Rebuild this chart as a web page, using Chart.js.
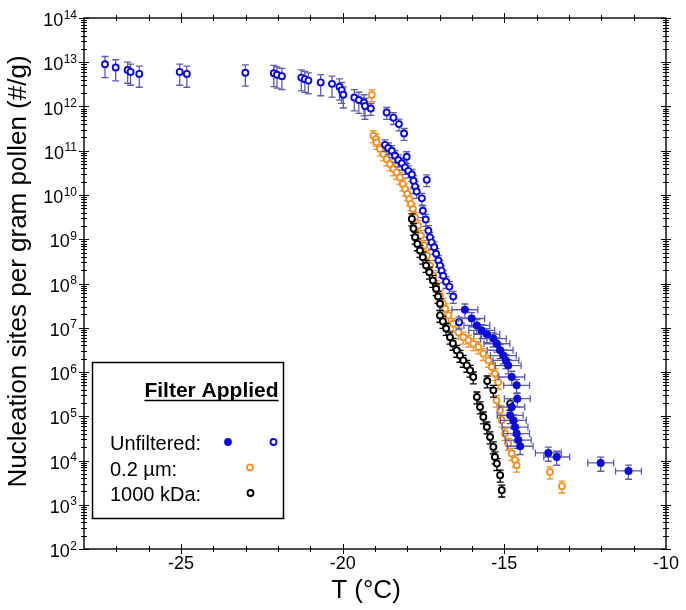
<!DOCTYPE html>
<html><head><meta charset="utf-8">
<script src="https://cdn.jsdelivr.net/npm/chart.js@4.4.1/dist/chart.umd.min.js"></script>
<style>html,body{margin:0;padding:0;background:#fff;}canvas{display:block;}</style>
</head><body>
<canvas id="c" width="686" height="610"></canvas>
<script>
// ---------------- DATA ----------------
const xTitle = 'T (°C)';
const yTitle = 'Nucleation sites per gram pollen (#/g)';
const legendTitle = 'Filter Applied';
const legendLabels = ['Unfiltered:', '0.2 µm:', '1000 kDa:'];
const xMin = -28, xMax = -10;
const xTickValues = [-25, -20, -15, -10];
const yMin = 1e2, yMax = 1e14;
const yTickExponents = [2, 3, 4, 5, 6, 7, 8, 9, 10, 11, 12, 13, 14];

// Unfiltered (open circles)
const blueOpenT = [-27.35,-27.02,-26.65,-26.56,-26.29,-25.04,-24.82,-23.01,-22.13,-22.03,-21.88,-21.28,-21.17,-21.06,-20.68,-20.33,-20.10,-20.03,-19.98,-19.64,-19.50,-19.34,-19.31,-19.13,-18.64,-18.43,-18.26,-18.10,-18.02,-18.69,-18.59,-18.48,-18.38,-18.28,-18.17,-18.07,-17.97,-17.86,-17.81,-17.76,-17.71,-17.55,-17.40,-17.52,-17.43,-17.35,-17.30,-17.25,-17.17,-17.11,-17.04,-16.99,-16.94,-16.89,-16.80,-16.70,-16.58,-16.40];
const blueOpenN = [9.0e12,7.6e12,6.7e12,6.05e12,5.45e12,6.05e12,5.45e12,5.8e12,5.65e12,5.2e12,4.85e12,4.5e12,4.15e12,3.85e12,3.5e12,3.25e12,2.8e12,2.35e12,1.85e12,1.6e12,1.4e12,1.23e12,1.03e12,9.0e11,7.3e11,5.6e11,4.0e11,2.45e11,7.3e10,1.36e11,1.15e11,1.0e11,7.7e10,6.2e10,5.2e10,4.2e10,3.5e10,2.9e10,2.1e10,1.55e10,1.2e10,8.4e9,2.2e10,4.4e9,2.8e9,1.57e9,1.1e9,8.5e8,6.6e8,4.7e8,3.3e8,2.55e8,1.95e8,1.5e8,1.1e8,8.5e7,5.1e7,1.34e7];
const blueOpenErr = [0.5,0.5,0.5,0.5,0.5,0.5,0.5,0.5,0.5,0.5,0.5,0.5,0.5,0.5,0.5,0.5,0.5,0.5,0.5,0.5,0.5,0.5,0.5,0.3,0.3,0.3,0.3,0.3,0.3,0.3,0.3,0.3,0.3,0.3,0.3,0.3,0.3,0.3,0.3,0.3,0.3,0.3,0.3,0.3,0.3,0.3,0.3,0.3,0.3,0.3,0.3,0.3,0.3,0.3,0.3,0.3,0.3,0.3];

// Unfiltered (filled circles, with T uncertainty)
const blueFilledT = [-16.22,-16.01,-15.85,-15.70,-15.54,-15.34,-15.23,-15.13,-15.03,-14.95,-14.88,-14.77,-14.62,-14.60,-14.77,-14.82,-14.72,-14.67,-14.62,-14.57,-14.51,-13.64,-13.38,-12.02,-11.16];
const blueFilledN = [2.55e7,1.62e7,1.13e7,8.7e6,7.1e6,5.65e6,4.35e6,3.1e6,2.35e6,1.83e6,1.4e6,7.7e5,5.0e5,2.5e5,1.62e5,1.05e5,8.1e4,5.7e4,4.05e4,2.9e4,2.1e4,1.48e4,1.2e4,8.8e3,5.8e3];
const blueFilledErrN = 0.35;
const blueFilledErrT = 0.4;

// 0.2 µm filtered
const orangeT = [-19.10,-19.05,-18.97,-18.95,-18.84,-18.74,-18.64,-18.54,-18.43,-18.33,-18.23,-18.14,-18.07,-18.00,-17.94,-17.89,-17.83,-17.76,-17.67,-17.58,-17.48,-17.39,-17.30,-17.20,-17.11,-16.99,-16.90,-16.83,-16.73,-16.58,-16.42,-16.27,-16.11,-15.96,-15.80,-15.65,-15.49,-15.39,-15.29,-15.19,-15.24,-15.13,-15.08,-14.98,-14.88,-14.77,-14.67,-14.62,-13.59,-13.22];
const orangeN = [1.83e12,2.18e11,1.84e11,1.54e11,1.09e11,8.4e10,6.5e10,5.0e10,3.86e10,3.24e10,2.5e10,1.77e10,1.37e10,1.05e10,8.1e9,6.3e9,4.84e9,3.13e9,2.03e9,1.21e9,7.2e8,4.28e8,2.55e8,1.51e8,9.0e7,5.35e7,3.53e7,2.68e7,1.9e7,1.23e7,7.96e6,6.1e6,5.2e6,4.36e6,3.66e6,2.6e6,1.83e6,1.3e6,9.2e5,5.9e5,2.29e5,1.36e5,8.1e4,4.06e4,2.42e4,1.44e4,1.02e4,7.8e3,5.5e3,2.63e3];
const orangeErrN = 0.3;

// 1000 kDa filtered
const blackT = [-17.86,-17.81,-17.76,-17.69,-17.61,-17.52,-17.42,-17.32,-17.21,-17.11,-17.05,-16.99,-16.99,-16.90,-16.80,-16.68,-16.59,-16.47,-16.37,-16.27,-16.16,-16.06,-15.96,-15.53,-15.34,-14.82,-15.85,-15.75,-15.65,-15.54,-15.44,-15.34,-15.29,-15.23,-15.13,-15.08];
const blackN = [2.88e9,1.74e9,1.11e9,7.85e8,5.55e8,3.92e8,2.55e8,1.8e8,1.17e8,7.6e7,5.1e7,3.48e7,1.9e7,1.39e7,9.6e6,6.1e6,4.43e6,3.08e6,2.37e6,1.83e6,1.41e6,1.09e6,7.7e5,6.25e5,3.85e5,1.93e5,2.72e5,1.62e5,9.6e4,5.7e4,3.4e4,2.03e4,1.2e4,8.5e3,4.66e3,2.14e3];
const blackErrN = 0.3;

// ---------------- STYLE ----------------
const FONT = '"Liberation Sans", Arial, Helvetica, sans-serif';
const BLUE = '#0b0bd8', BLUE_ERR = '#5c5cae', ORANGE = '#ef942a', BLACK = '#000000';

const pts = (T, N) => T.map((t, i) => ({x: t, y: N[i]}));

function drawCircle(ctx, x, y, r, fill, stroke) {
  ctx.beginPath(); ctx.arc(x, y, r, 0, Math.PI * 2);
  ctx.fillStyle = fill; ctx.fill();
  ctx.lineWidth = 1.8; ctx.strokeStyle = stroke; ctx.stroke();
}

const framePlugin = {
  id: 'framePlugin',
  beforeDatasetDraw(chart, args) {
    const ds = chart.data.datasets[args.index];
    const xs = chart.scales.x, ys = chart.scales.y, ctx = chart.ctx, a = chart.chartArea;
    ctx.save();
    ctx.beginPath(); ctx.rect(a.left, a.top, a.right - a.left, a.bottom - a.top); ctx.clip();
    ctx.strokeStyle = ds.errColor; ctx.lineWidth = 1.3;
    const cap = 3.5;
    ds.data.forEach((p, i) => {
      const e = Array.isArray(ds.errY) ? ds.errY[i] : ds.errY;
      const px = xs.getPixelForValue(p.x), py = ys.getPixelForValue(p.y);
      ctx.beginPath();
      if (e) {
        const t = ys.getPixelForValue(p.y * (1 + e)), b = ys.getPixelForValue(p.y * (1 - e));
        ctx.moveTo(px, t); ctx.lineTo(px, b);
        ctx.moveTo(px - cap, t); ctx.lineTo(px + cap, t);
        ctx.moveTo(px - cap, b); ctx.lineTo(px + cap, b);
      }
      if (ds.errX) {
        const l = xs.getPixelForValue(p.x - ds.errX), r = xs.getPixelForValue(p.x + ds.errX);
        ctx.moveTo(l, py); ctx.lineTo(r, py);
        ctx.moveTo(l, py - cap); ctx.lineTo(l, py + cap);
        ctx.moveTo(r, py - cap); ctx.lineTo(r, py + cap);
      }
      ctx.stroke();
    });
    ctx.restore();
  },
  afterDraw(chart) {
    const ctx = chart.ctx, a = chart.chartArea, xs = chart.scales.x, ys = chart.scales.y;
    ctx.save();
    // frame
    ctx.strokeStyle = '#000'; ctx.lineWidth = 1.4;
    ctx.strokeRect(a.left, a.top, a.right - a.left, a.bottom - a.top);
    // ticks
    ctx.lineWidth = 1; ctx.beginPath();
    for (let t = xMin + 1; t < xMax; t++) {
      const L = xTickValues.includes(t) ? 5 : 3;
      const px = Math.round(xs.getPixelForValue(t)) + 0.5;
      ctx.moveTo(px, a.bottom - L); ctx.lineTo(px, a.bottom + L);
      ctx.moveTo(px, a.top - L); ctx.lineTo(px, a.top + L);
    }
    yTickExponents.forEach(ex => {
      const major = Math.round(ys.getPixelForValue(Math.pow(10, ex))) + 0.5;
      [[major, 5]].concat(ex < yTickExponents[yTickExponents.length - 1]
        ? [2,3,4,5,6,7,8,9].map(m => [Math.round(ys.getPixelForValue(m * Math.pow(10, ex))) + 0.5, 3]) : [])
        .forEach(([py, L]) => {
          ctx.moveTo(a.left - L, py); ctx.lineTo(a.left + L, py);
          ctx.moveTo(a.right - L, py); ctx.lineTo(a.right + L, py);
        });
    });
    ctx.stroke();
    // y tick labels 10^n
    ctx.fillStyle = '#000'; ctx.textBaseline = 'alphabetic';
    yTickExponents.forEach(ex => {
      const py = ys.getPixelForValue(Math.pow(10, ex));
      const right = 77;
      ctx.font = '12px ' + FONT; ctx.textAlign = 'left';
      const es = String(ex), ew = ctx.measureText(es).width;
      ctx.fillText(es, right - ew, py + 0.5);
      ctx.font = '18px ' + FONT; ctx.textAlign = 'right';
      ctx.fillText('10', right - ew - 0.5, py + 8);
    });
    // axis titles
    ctx.font = '26px ' + FONT; ctx.textAlign = 'center';
    ctx.fillText(xTitle, 366, 598);
    ctx.save(); ctx.translate(25.5, 271.5); ctx.rotate(-Math.PI / 2);
    ctx.fillText(yTitle, 0, 0); ctx.restore();
    // legend
    ctx.lineWidth = 1.5; ctx.strokeStyle = '#000';
    ctx.strokeRect(92.5, 362.5, 191, 156);
    ctx.font = 'bold 21px ' + FONT; ctx.textAlign = 'center';
    ctx.fillText(legendTitle, 211.5, 397);
    const tw = ctx.measureText(legendTitle).width;
    ctx.beginPath(); ctx.moveTo(211.5 - tw / 2, 400.5); ctx.lineTo(211.5 + tw / 2, 400.5); ctx.stroke();
    ctx.font = '20px ' + FONT; ctx.textAlign = 'left';
    ctx.fillText(legendLabels[0], 110, 450);
    ctx.fillText(legendLabels[1], 110, 475.5);
    ctx.fillText(legendLabels[2], 110, 501);
    drawCircle(ctx, 228, 442, 3, BLUE, BLUE);
    drawCircle(ctx, 273.5, 442, 3, '#fff', BLUE);
    drawCircle(ctx, 250, 467.5, 3, '#fff', ORANGE);
    drawCircle(ctx, 250.5, 493, 3, '#fff', BLACK);
    ctx.restore();
  }
};

new Chart(document.getElementById('c'), {
  type: 'scatter',
  data: {
    datasets: [
      {label: 'Unfiltered (filled)', data: pts(blueFilledT, blueFilledN), order: 1,
       errY: blueFilledErrN, errX: blueFilledErrT, errColor: BLUE_ERR,
       pointRadius: 3.4, borderWidth: 1.2, borderColor: BLUE, backgroundColor: BLUE},
      {label: 'Unfiltered (open)', data: pts(blueOpenT, blueOpenN), order: 2,
       errY: blueOpenErr, errColor: BLUE_ERR,
       pointRadius: 3, borderWidth: 1.9, borderColor: BLUE, backgroundColor: '#fff'},
      {label: '1000 kDa', data: pts(blackT, blackN), order: 3,
       errY: blackErrN, errColor: BLACK,
       pointRadius: 3, borderWidth: 1.9, borderColor: BLACK, backgroundColor: '#fff'},
      {label: '0.2 µm', data: pts(orangeT, orangeN), order: 4,
       errY: orangeErrN, errColor: ORANGE,
       pointRadius: 3, borderWidth: 1.9, borderColor: ORANGE, backgroundColor: '#fff'}
    ]
  },
  options: {
    responsive: false, animation: false, devicePixelRatio: 1,
    layout: {padding: {top: 18, right: 20, left: 0, bottom: 0}},
    plugins: {legend: {display: false}, tooltip: {enabled: false}},
    elements: {point: {hoverRadius: 3, pointStyle: 'circle'}},
    scales: {
      x: {
        type: 'linear', position: 'bottom', min: xMin, max: xMax,
        grid: {display: false, drawTicks: false}, border: {display: false},
        afterBuildTicks: s => { s.ticks = xTickValues.map(v => ({value: v})); },
        afterFit: s => { s.height = 61; },
        ticks: {color: '#000', font: {family: FONT, size: 18}, padding: 4, maxRotation: 0, autoSkip: false}
      },
      y: {
        type: 'logarithmic', position: 'left', min: yMin, max: yMax,
        grid: {display: false, drawTicks: false}, border: {display: false},
        ticks: {display: false},
        afterFit: s => { s.width = 84; }
      }
    }
  },
  plugins: [framePlugin]
});
</script>
</body></html>
